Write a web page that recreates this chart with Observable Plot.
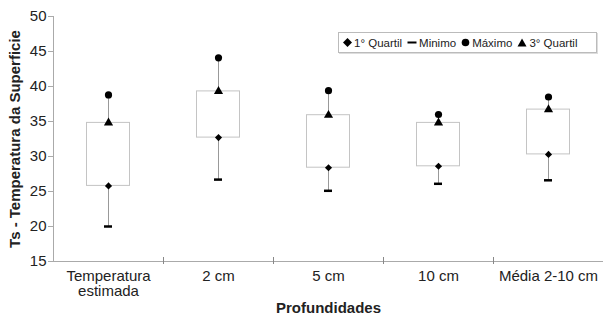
<!DOCTYPE html>
<html>
<head>
<meta charset="utf-8">
<script src="https://cdn.jsdelivr.net/npm/d3@7"></script>
<script src="https://cdn.jsdelivr.net/npm/@observablehq/plot@0.6"></script>
<style>
  html, body { margin: 0; padding: 0; background: white; }
  #wrap { position: relative; width: 604px; height: 320px; font-family: "Liberation Sans", Arial, sans-serif; }
  #legend { position: absolute; left: 338px; top: 32px; width: 259px; height: 21px; border: 1px solid #bbb;
    box-shadow: 1px 1px 0 #ddd; background: white; display: flex; align-items: center; font-size: 11.5px; color: #222;
    box-sizing: border-box; padding-left: 4px; white-space: nowrap; }
  #legend .it { display: flex; align-items: center; margin-right: 5px; flex-shrink: 0; white-space: nowrap; }
  #legend svg { margin-right: 2px; flex-shrink: 0; }
</style>
</head>
<body>
<div id="wrap"><div id="legend"></div></div>
<script>
const categories = ["Temperatura\nestimada", "2 cm", "5 cm", "10 cm", "Média 2-10 cm"];
const minimo = [20.0, 26.7, 25.1, 26.1, 26.6];
const quartil1 = [25.8, 32.7, 28.4, 28.6, 30.3];
const quartil3 = [34.8, 39.3, 35.9, 34.8, 36.7];
const maximo = [38.8, 44.1, 39.4, 36.0, 38.5];
const yTicks = [15, 20, 25, 30, 35, 40, 45, 50];
const legendLabels = ["1° Quartil", "Minimo", "Máximo", "3° Quartil"];
const yLabel = "Ts - Temperatura da Superficie";
const xLabel = "Profundidades";

const data = categories.map((c, i) => ({cat: c, min: minimo[i], q1: quartil1[i], q3: quartil3[i], max: maximo[i]}));

const chart = Plot.plot({
  width: 604,
  height: 320,
  marginLeft: 53,
  marginRight: 1,
  marginTop: 16,
  marginBottom: 59,
  style: {fontFamily: "'Liberation Sans', Arial, sans-serif", fontSize: "15px", color: "#222", background: "white"},
  x: {domain: categories, padding: 0, label: null},
  y: {domain: [15, 50], label: null},
  marks: [
    Plot.ruleX([categories[0]], {x: d => d, dx: -55, y1: 15, y2: 50, stroke: "#aaa"}),
    Plot.ruleY([15], {stroke: "#aaa"}),
    Plot.ruleX(categories.slice(1), {x: d => d, dx: -55, y1: 15, y2: 15, insetTop: -4, insetBottom: -3, stroke: "#888"}),
    Plot.axisY({ticks: yTicks, tickSize: 5, tickPadding: 2, stroke: "#aaa", fill: "#222"}),
    Plot.axisX({tickSize: 0, tickPadding: 8, lineHeight: 1.05, fill: "#222"}),
    Plot.ruleX(data, {x: "cat", y1: "min", y2: "max", stroke: "#999"}),
    Plot.barY(data, {x: "cat", y1: "q1", y2: "q3", fill: "white", stroke: "#c4c4c4", insetLeft: 33.5, insetRight: 33.5}),
    Plot.tickY(data, {x: "cat", y: "min", stroke: "black", strokeWidth: 2.5, insetLeft: 51, insetRight: 51}),
    Plot.dot(data, {x: "cat", y: "max", r: 3.6, fill: "black", symbol: "circle"}),
    Plot.dot(data, {x: "cat", y: "q3", r: 3.4, fill: "black", symbol: "triangle"}),
    Plot.dot(data, {x: "cat", y: "q1", r: 3.2, fill: "black", symbol: "diamond2"}),
    Plot.text([yLabel], {text: d => d, frameAnchor: "left", textAnchor: "middle", lineAnchor: "middle", rotate: -90, dx: -38, fontWeight: "bold", fill: "#222"}),
    Plot.text([xLabel], {text: d => d, frameAnchor: "bottom", lineAnchor: "middle", dy: 47, fontWeight: "bold", fill: "#222"})
  ]
});
document.getElementById("wrap").prepend(chart);

const syms = [
  '<svg width="9" height="9" viewBox="-4.5 -4.5 9 9"><path d="M0,-4.5L4.5,0L0,4.5L-4.5,0Z" fill="black"/></svg>',
  '<svg width="10" height="9" viewBox="-5 -4.5 10 9"><rect x="-4.5" y="-1" width="9" height="2" fill="black"/></svg>',
  '<svg width="9" height="9" viewBox="-4.5 -4.5 9 9"><circle r="3.8" fill="black"/></svg>',
  '<svg width="10" height="9" viewBox="-5 -4.5 10 9"><path d="M0,-4L4.5,4L-4.5,4Z" fill="black"/></svg>'
];
document.getElementById("legend").innerHTML = legendLabels.map((l, i) => `<span class="it">${syms[i]}${l}</span>`).join("");
</script>
</body>
</html>
